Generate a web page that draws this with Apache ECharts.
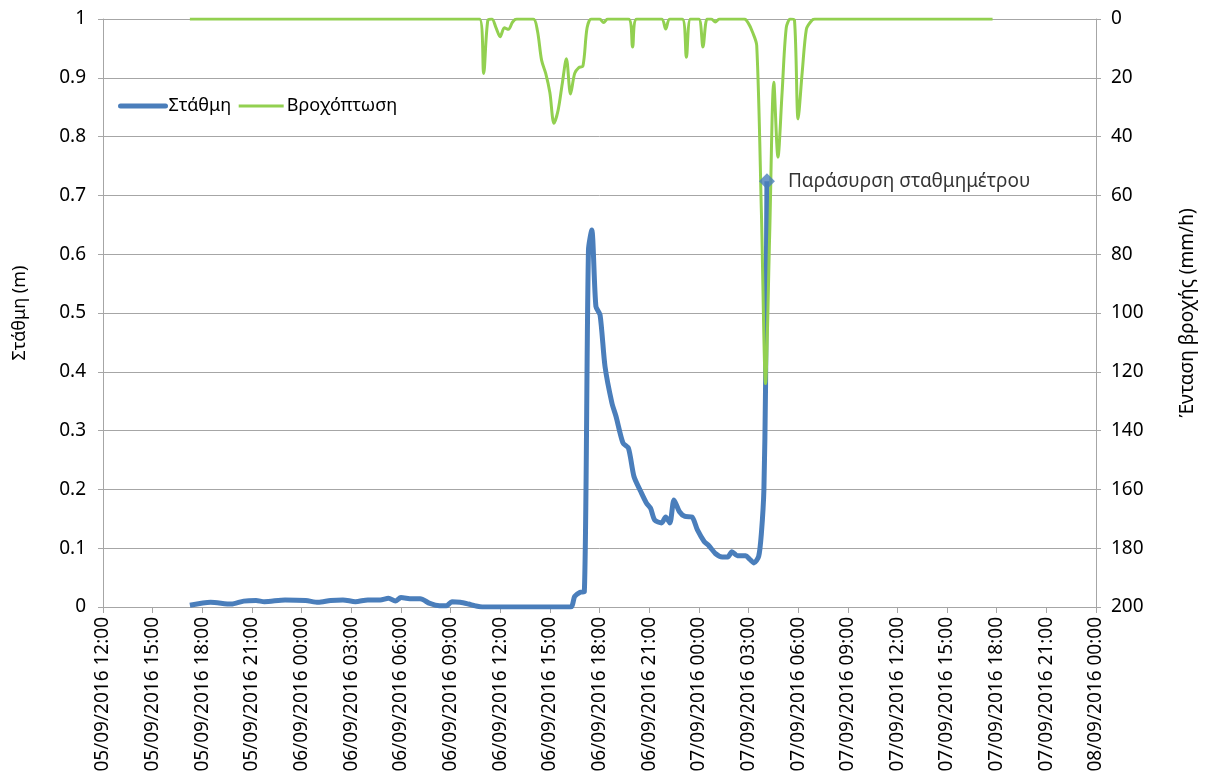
<!DOCTYPE html>
<html>
<head>
<meta charset="utf-8">
<script src="https://cdn.jsdelivr.net/npm/echarts@6/dist/echarts.min.js"></script>
<style>
  html, body { margin: 0; padding: 0; background: #fff; }
  #chart { width: 1205px; height: 782px; }
</style>
</head>
<body>
<div id="chart"></div>
<script>
// Water level (m) at the gauge
const levelTimes = [
  "2016-09-05 17:15", "2016-09-05 18:30", "2016-09-05 19:45", "2016-09-05 20:30",
  "2016-09-05 21:15", "2016-09-05 21:45", "2016-09-05 23:00", "2016-09-06 00:15",
  "2016-09-06 01:00", "2016-09-06 01:45", "2016-09-06 02:30", "2016-09-06 03:15",
  "2016-09-06 04:00", "2016-09-06 04:45", "2016-09-06 05:15", "2016-09-06 05:40",
  "2016-09-06 06:00", "2016-09-06 06:40", "2016-09-06 07:10", "2016-09-06 07:45",
  "2016-09-06 08:20", "2016-09-06 08:45", "2016-09-06 09:05", "2016-09-06 09:35",
  "2016-09-06 10:05", "2016-09-06 10:30", "2016-09-06 10:55", "2016-09-06 16:15",
  "2016-09-06 16:30", "2016-09-06 16:50", "2016-09-06 17:05", "2016-09-06 17:20",
  "2016-09-06 17:32", "2016-09-06 17:47", "2016-09-06 18:02", "2016-09-06 18:20",
  "2016-09-06 18:45", "2016-09-06 19:00", "2016-09-06 19:25", "2016-09-06 19:45",
  "2016-09-06 20:05", "2016-09-06 20:30", "2016-09-06 20:50", "2016-09-06 21:05",
  "2016-09-06 21:20", "2016-09-06 21:45", "2016-09-06 22:00", "2016-09-06 22:15",
  "2016-09-06 22:30", "2016-09-06 22:50", "2016-09-06 23:10", "2016-09-06 23:35",
  "2016-09-06 23:55", "2016-09-07 00:20", "2016-09-07 00:35", "2016-09-07 01:00",
  "2016-09-07 01:25", "2016-09-07 01:45", "2016-09-07 02:00", "2016-09-07 02:20",
  "2016-09-07 02:50", "2016-09-07 03:05", "2016-09-07 03:20", "2016-09-07 03:37",
  "2016-09-07 03:47", "2016-09-07 03:56", "2016-09-07 04:02", "2016-09-07 04:07"
];
const levelValues = [
  0.003, 0.008, 0.005, 0.010,
  0.011, 0.009, 0.012, 0.011,
  0.008, 0.011, 0.012, 0.009,
  0.012, 0.012, 0.015, 0.010,
  0.016, 0.014, 0.014, 0.006,
  0.002, 0.002, 0.009, 0.008,
  0.005, 0.002, 0.000, 0.000,
  0.018, 0.025, 0.026, 0.607,
  0.641, 0.511, 0.497, 0.409,
  0.347, 0.324, 0.279, 0.270,
  0.222, 0.196, 0.177, 0.168,
  0.148, 0.143, 0.153, 0.143,
  0.182, 0.162, 0.154, 0.153,
  0.131, 0.111, 0.105, 0.091,
  0.085, 0.085, 0.094, 0.087,
  0.087, 0.081, 0.075, 0.086,
  0.126, 0.199, 0.375, 0.724
];

// Rainfall intensity (mm/h)
const rainTimes = [
  "2016-09-05 17:15", "2016-09-06 10:45", "2016-09-06 11:00", "2016-09-06 11:15",
  "2016-09-06 11:30", "2016-09-06 11:45", "2016-09-06 12:00", "2016-09-06 12:15",
  "2016-09-06 12:30", "2016-09-06 12:45", "2016-09-06 13:00", "2016-09-06 14:00",
  "2016-09-06 14:15", "2016-09-06 14:30", "2016-09-06 14:45", "2016-09-06 15:00",
  "2016-09-06 15:15", "2016-09-06 15:30", "2016-09-06 15:45", "2016-09-06 16:00",
  "2016-09-06 16:15", "2016-09-06 16:30", "2016-09-06 16:45", "2016-09-06 17:00",
  "2016-09-06 17:15", "2016-09-06 17:30", "2016-09-06 18:00", "2016-09-06 18:15",
  "2016-09-06 18:30", "2016-09-06 19:45", "2016-09-06 20:00", "2016-09-06 20:15",
  "2016-09-06 21:45", "2016-09-06 22:00", "2016-09-06 22:15", "2016-09-06 23:00",
  "2016-09-06 23:15", "2016-09-06 23:30", "2016-09-07 00:00", "2016-09-07 00:15",
  "2016-09-07 00:30", "2016-09-07 00:45", "2016-09-07 01:00", "2016-09-07 01:15",
  "2016-09-07 02:45", "2016-09-07 03:00", "2016-09-07 03:15", "2016-09-07 03:30",
  "2016-09-07 03:47", "2016-09-07 04:02", "2016-09-07 04:17", "2016-09-07 04:32",
  "2016-09-07 04:47", "2016-09-07 05:02", "2016-09-07 05:17", "2016-09-07 05:32",
  "2016-09-07 05:47", "2016-09-07 06:00", "2016-09-07 06:15", "2016-09-07 06:30",
  "2016-09-07 06:45", "2016-09-07 07:00", "2016-09-07 17:45"
];
const rainValues = [
  0, 0, 18.5, 0.5,
  0, 3, 6, 3,
  3.5, 1, 0, 0,
  4, 14, 18.5, 25,
  35.5, 31, 22, 13.5,
  25.5, 18.5, 16.5, 16,
  3, 0, 0, 1.2,
  0, 0, 9.5, 0,
  0, 3.4, 0, 0,
  13, 0, 0, 9.5,
  0, 0, 1, 0,
  0, 1.5, 4.5, 9,
  66, 124, 73, 21.5,
  47, 25, 3, 0,
  0.5, 34, 18, 3.5,
  1, 0, 0
];

// Axis settings
const xStart = "2016-09-05 12:00";
const xEnd = "2016-09-08 00:00";
const xStepHours = 3;
const levelAxis = { name: "Στάθμη (m)", min: 0, max: 1, step: 0.1 };
const rainAxis = { name: "Ένταση βροχής (mm/h)", min: 0, max: 200, step: 20 };
const levelName = "Στάθμη";
const rainName = "Βροχόπτωση";
const gaugeNote = "Παράσυρση σταθμημέτρου";

function toMs(s) {
  const [d, hm] = s.split(" ");
  const [y, mo, da] = d.split("-").map(Number);
  const [h, mi] = hm.split(":").map(Number);
  return Date.UTC(y, mo - 1, da, h, mi);
}
function pad(n) { return (n < 10 ? "0" : "") + n; }
function fmtTick(ms) {
  const t = new Date(ms);
  return pad(t.getUTCDate()) + "/" + pad(t.getUTCMonth() + 1) + "/" + t.getUTCFullYear() +
    " " + pad(t.getUTCHours()) + ":" + pad(t.getUTCMinutes());
}

const levelData = levelTimes.map((t, i) => [toMs(t), levelValues[i]]);
const rainData = rainTimes.map((t, i) => [toMs(t), rainValues[i]]);
const lastLevel = levelData[levelData.length - 1];

const FONT = "Noto Sans";
const BLUE = "#4A7EBB";
const GREEN = "#92D050";
const GRID_GRAY = "#A6A6A6";
const FS = 19;

const chart = echarts.init(document.getElementById("chart"), null, { renderer: "canvas" });
chart.setOption({
  animation: false,
  backgroundColor: "#fff",
  textStyle: { fontFamily: FONT },
  grid: { left: 103, right: 107, top: 19, bottom: 175, containLabel: false },
  legend: {
    left: 113, top: 92,
    itemWidth: 45, itemHeight: 14, itemGap: 6,
    itemStyle: { opacity: 0 },
    data: [
      { name: levelName, lineStyle: { width: 5, color: BLUE, cap: "round" } },
      { name: rainName, lineStyle: { width: 3, color: GREEN } }
    ],
    textStyle: { fontFamily: FONT, fontSize: 18, color: "#000", padding: [0, 0, 0, -2] }
  },
  xAxis: {
    type: "value",
    min: toMs(xStart), max: toMs(xEnd),
    interval: xStepHours * 3600 * 1000,
    axisLine: { lineStyle: { color: GRID_GRAY, width: 1 } },
    axisTick: { show: true, length: 6, lineStyle: { color: GRID_GRAY } },
    splitLine: { show: false },
    axisLabel: {
      rotate: 90, margin: 10, fontSize: FS, color: "#000", fontFamily: FONT,
      showMinLabel: true, showMaxLabel: true,
      formatter: fmtTick
    }
  },
  yAxis: [
    {
      type: "value",
      name: levelAxis.name, nameLocation: "middle", nameRotate: 90, nameGap: 74,
      nameTextStyle: { fontSize: 18, color: "#000", fontFamily: FONT },
      min: levelAxis.min, max: levelAxis.max, interval: levelAxis.step,
      axisLine: { show: true, lineStyle: { color: GRID_GRAY } },
      axisTick: { show: true, length: 5, lineStyle: { color: GRID_GRAY } },
      axisLabel: { fontSize: FS, color: "#000", margin: 17, fontFamily: FONT,
                   formatter: v => (Math.round(v * 10) / 10).toString() },
      splitLine: { show: true, lineStyle: { color: GRID_GRAY, width: 1 } }
    },
    {
      type: "value",
      position: "right", inverse: true,
      name: rainAxis.name, nameLocation: "middle", nameRotate: 90, nameGap: 82,
      nameTextStyle: { fontSize: FS, color: "#000", fontFamily: FONT },
      min: rainAxis.min, max: rainAxis.max, interval: rainAxis.step,
      axisLine: { show: true, lineStyle: { color: GRID_GRAY } },
      axisTick: { show: true, length: 5, lineStyle: { color: GRID_GRAY } },
      axisLabel: { fontSize: FS, color: "#000", margin: 15, fontFamily: FONT },
      splitLine: { show: false }
    }
  ],
  series: [
    {
      name: levelName, type: "line", yAxisIndex: 0,
      data: levelData, showSymbol: false, symbol: "none",
      smooth: 0.25,
      lineStyle: { color: BLUE, width: 5 },
      itemStyle: { color: BLUE },
      z: 2
    },
    {
      name: rainName, type: "line", yAxisIndex: 1,
      data: rainData, showSymbol: false, symbol: "none",
      smooth: 0.3,
      lineStyle: { color: GREEN, width: 3 },
      itemStyle: { color: GREEN },
      z: 3
    },
    {
      name: gaugeNote, type: "scatter", yAxisIndex: 0,
      data: [lastLevel],
      symbol: "diamond", symbolSize: [16, 16],
      itemStyle: { color: BLUE },
      label: {
        show: true, position: "right", distance: 13,
        formatter: gaugeNote, fontSize: FS, color: "#000", fontFamily: FONT
      },
      z: 4
    }
  ]
});
</script>
</body>
</html>
